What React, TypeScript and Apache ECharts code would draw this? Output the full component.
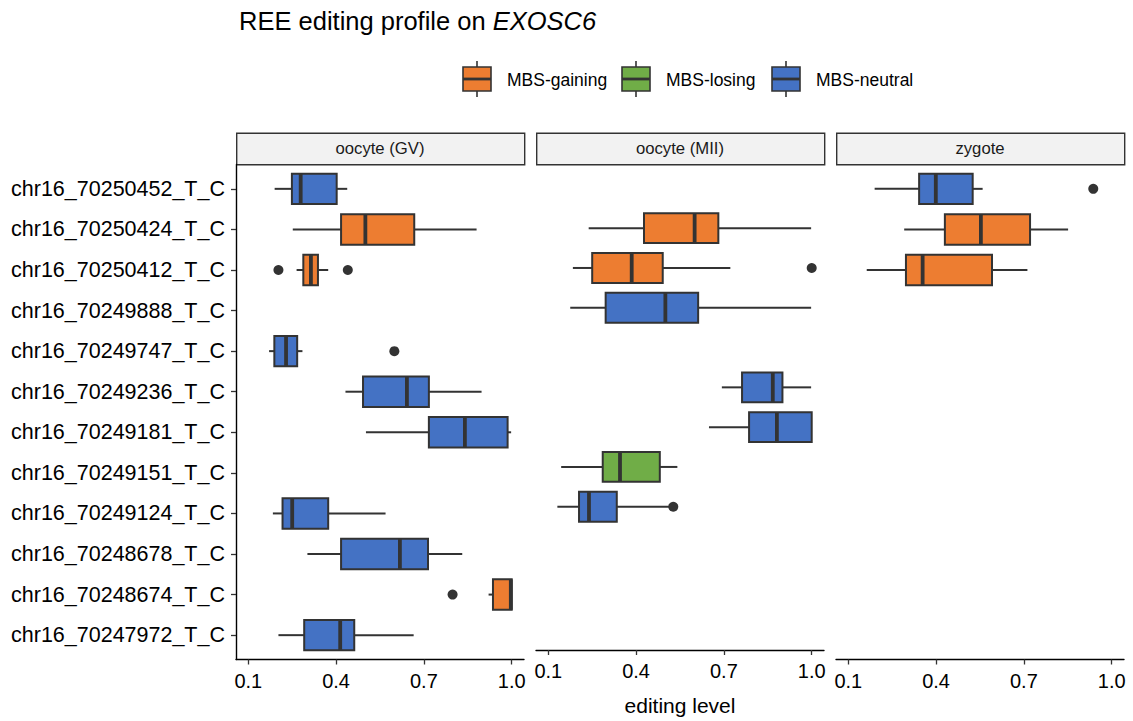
import React, { useEffect, useRef } from "react";
import * as echarts from "echarts";

const FONT = "Liberation Sans, Arial, Helvetica, sans-serif";

const categories = [
  "chr16_70250452_T_C",
  "chr16_70250424_T_C",
  "chr16_70250412_T_C",
  "chr16_70249888_T_C",
  "chr16_70249747_T_C",
  "chr16_70249236_T_C",
  "chr16_70249181_T_C",
  "chr16_70249151_T_C",
  "chr16_70249124_T_C",
  "chr16_70248678_T_C",
  "chr16_70248674_T_C",
  "chr16_70247972_T_C",
];

const panels = ["oocyte (GV)", "oocyte (MII)", "zygote"];
const groups = ["MBS-gaining", "MBS-losing", "MBS-neutral"];
const groupColors = ["#ED7D31", "#70AD47", "#4472C4"];
const xTicks = [0.1, 0.4, 0.7, 1.0];

// [row, min, q1, median, q3, max, group]
const gvStats = [
  [0, 0.19, 0.249, 0.279, 0.402, 0.438, 2],
  [1, 0.252, 0.417, 0.5, 0.667, 0.88, 0],
  [2, 0.265, 0.288, 0.314, 0.338, 0.373, 0],
  [4, 0.171, 0.189, 0.229, 0.267, 0.285, 2],
  [5, 0.432, 0.492, 0.642, 0.717, 0.897, 2],
  [6, 0.502, 0.717, 0.84, 0.986, 0.998, 2],
  [8, 0.184, 0.217, 0.25, 0.373, 0.569, 2],
  [9, 0.302, 0.417, 0.618, 0.714, 0.831, 2],
  [10, 0.921, 0.936, 0.997, 1.0, 1.0, 0],
  [11, 0.203, 0.291, 0.414, 0.462, 0.665, 2],
];
const gvOutliers = [
  [0.203, 2],
  [0.44, 2],
  [0.599, 4],
  [0.798, 10],
];

const miiStats = [
  [1, 0.238, 0.427, 0.6, 0.681, 0.998, 0],
  [2, 0.184, 0.25, 0.385, 0.491, 0.722, 0],
  [3, 0.175, 0.296, 0.5, 0.612, 0.998, 2],
  [5, 0.693, 0.762, 0.867, 0.9, 0.998, 2],
  [6, 0.649, 0.786, 0.881, 1.0, 1.0, 2],
  [7, 0.144, 0.286, 0.345, 0.481, 0.541, 1],
  [8, 0.131, 0.205, 0.239, 0.334, 0.522, 2],
];
const miiOutliers = [
  [1.0, 2],
  [0.527, 8],
];

const zygoteStats = [
  [0, 0.19, 0.342, 0.399, 0.525, 0.559, 2],
  [1, 0.291, 0.43, 0.553, 0.721, 0.851, 0],
  [2, 0.163, 0.297, 0.354, 0.591, 0.712, 0],
];
const zygoteOutliers = [[0.937, 0]];

const panelStats = [gvStats, miiStats, zygoteStats];
const panelOutliers = [gvOutliers, miiOutliers, zygoteOutliers];

export default function App() {
  const ref = useRef<HTMLDivElement>(null);

  useEffect(() => {
    if (!ref.current) return;
    const chart = echarts.init(ref.current, null, { renderer: "svg" });

    const lefts = [236, 536, 836];
    const pw = 288;
    const top = 164.5;
    const ph = 495;

    const grids = lefts.map((l) => ({ left: l, top, width: pw, height: ph, containLabel: false }));

    const xAxes = lefts.map((_, i) => ({
      type: "value",
      gridIndex: i,
      min: 0.058,
      max: 1.042,
      splitLine: { show: false },
      axisLine: { show: true, onZero: false, lineStyle: { color: "#000", width: 1.4 } },
      axisTick: { show: true, customValues: xTicks, length: 5, lineStyle: { color: "#333", width: 1.3 } },
      axisLabel: {
        show: true,
        customValues: xTicks,
        formatter: (v: number) => v.toFixed(1),
        color: "#000",
        fontSize: 20,
        fontFamily: FONT,
        margin: 11,
      },
      name: i === 1 ? "editing level" : "",
      nameLocation: "middle",
      nameGap: 45,
      nameTextStyle: { fontSize: 21, fontFamily: FONT, color: "#000" },
    }));

    const yAxes = lefts.map((_, i) => ({
      type: "value",
      gridIndex: i,
      min: -0.6,
      max: 11.6,
      inverse: true,
      splitLine: { show: false },
      axisLine: { show: i === 0, onZero: false, lineStyle: { color: "#000", width: 1.4 } },
      axisTick: {
        show: i === 0,
        customValues: categories.map((_, k) => k),
        length: 5,
        lineStyle: { color: "#333", width: 1.3 },
      },
      axisLabel: {
        show: i === 0,
        customValues: categories.map((_, k) => k),
        formatter: (v: number) => categories[Math.round(v)] ?? "",
        color: "#000",
        fontSize: 21.5,
        fontFamily: FONT,
        margin: 11,
      },
    }));

    const series: any[] = [];
    panelStats.forEach((stats, i) => {
      series.push({
        type: "custom",
        xAxisIndex: i,
        yAxisIndex: i,
        encode: { x: [1, 2, 3, 4, 5], y: 0 },
        data: stats,
        renderItem: (params: any, api: any) => {
          const row = api.value(0);
          const pLo = api.coord([api.value(1), row]);
          const pQ1 = api.coord([api.value(2), row]);
          const pMed = api.coord([api.value(3), row]);
          const pQ3 = api.coord([api.value(4), row]);
          const pHi = api.coord([api.value(5), row]);
          const g = api.value(6);
          const h = Math.abs(api.size([0, 0.75])[1]);
          const y = pLo[1];
          const stroke = "#333333";
          return {
            type: "group",
            children: [
              {
                type: "line",
                shape: { x1: pLo[0], y1: y, x2: pQ1[0], y2: y },
                style: { stroke, lineWidth: 2 },
              },
              {
                type: "line",
                shape: { x1: pQ3[0], y1: y, x2: pHi[0], y2: y },
                style: { stroke, lineWidth: 2 },
              },
              {
                type: "rect",
                shape: { x: pQ1[0], y: y - h / 2, width: pQ3[0] - pQ1[0], height: h },
                style: { fill: groupColors[g], stroke, lineWidth: 2 },
              },
              {
                type: "line",
                shape: { x1: pMed[0], y1: y - h / 2, x2: pMed[0], y2: y + h / 2 },
                style: { stroke, lineWidth: 3.8 },
              },
            ],
          };
        },
      });
      series.push({
        type: "scatter",
        xAxisIndex: i,
        yAxisIndex: i,
        data: panelOutliers[i],
        symbolSize: 10,
        itemStyle: { color: "#333333", opacity: 1 },
      });
    });

    const graphics: any[] = [];
    // facet strips
    panels.forEach((p, i) => {
      graphics.push({
        type: "rect",
        left: lefts[i],
        top: 132.5,
        shape: { x: 0, y: 0, width: pw, height: 31.5 },
        style: { fill: "#F2F2F2", stroke: "#333333", lineWidth: 1.4 },
      });
      graphics.push({
        type: "text",
        x: lefts[i] + pw / 2,
        y: 148.5,
        style: {
          text: p,
          fill: "#1a1a1a",
          fontSize: 16.7,
          fontFamily: FONT,
          align: "center",
          verticalAlign: "middle",
        },
      });
    });

    // legend
    const legendX = [463, 622, 772];
    groups.forEach((gname, i) => {
      const x = legendX[i];
      const w = 28;
      const cx = x + w / 2;
      graphics.push({
        type: "line",
        shape: { x1: cx, y1: 61, x2: cx, y2: 97 },
        style: { stroke: "#333333", lineWidth: 1.6 },
      });
      graphics.push({
        type: "rect",
        shape: { x, y: 67, width: w, height: 24 },
        style: { fill: groupColors[i], stroke: "#333333", lineWidth: 1.6 },
      });
      graphics.push({
        type: "line",
        shape: { x1: x, y1: 79, x2: x + w, y2: 79 },
        style: { stroke: "#333333", lineWidth: 2.8 },
      });
      graphics.push({
        type: "text",
        x: x + 44,
        y: 80,
        style: {
          text: gname,
          fill: "#000",
          fontSize: 17.5,
          fontFamily: FONT,
          align: "left",
          verticalAlign: "middle",
        },
      });
    });

    chart.setOption({
      animation: false,
      backgroundColor: "#ffffff",
      title: {
        text: "REE editing profile on {i|EXOSC6}",
        left: 234,
        top: 3,
        textStyle: {
          fontSize: 25.5,
          fontWeight: "normal",
          fontFamily: FONT,
          color: "#000",
          rich: {
            i: { fontSize: 25.5, fontStyle: "italic", fontFamily: FONT, color: "#000" },
          },
        },
      },
      grid: grids,
      xAxis: xAxes,
      yAxis: yAxes,
      series,
      graphic: graphics,
    });

    return () => chart.dispose();
  }, []);

  return (
    <div
      ref={ref}
      style={{ position: "fixed", left: 0, top: 0, width: 1133, height: 721, background: "#fff" }}
    />
  );
}
